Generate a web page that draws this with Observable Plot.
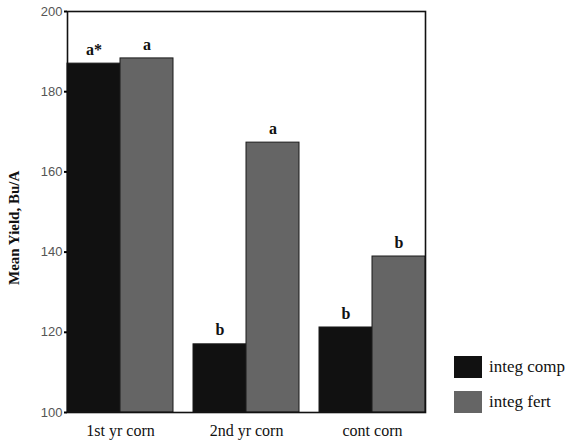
<!DOCTYPE html>
<html>
<head>
<meta charset="utf-8">
<script src="https://cdn.jsdelivr.net/npm/d3@7"></script>
<script src="https://cdn.jsdelivr.net/npm/@observablehq/plot@0.6"></script>
<style>
  body { margin: 0; background: #fff; }
  #wrap { position: relative; width: 565px; height: 444px; }
  #legend { position: absolute; left: 454px; top: 355px; }
  #legend span { font-family: "Liberation Serif", "Times New Roman", serif; font-size: 17px; color: #111; }
  .item { display: flex; align-items: center; height: 23px; margin-bottom: 12px; }
  .sw { width: 28px; height: 22px; margin-right: 7px; }
</style>
</head>
<body>
<div id="wrap"></div>
<script>
const groups = ["1st yr corn", "2nd yr corn", "cont corn"];
const series = ["integ comp", "integ fert"];
const compValues = [187, 117, 121.2];
const fertValues = [188.3, 167.3, 138.9];
const compLetters = ["a*", "b", "b"];
const fertLetters = ["a", "a", "b"];
const yTicks = [100, 120, 140, 160, 180, 200];
const yLabel = "Mean Yield, Bu/A";
const colors = ["#111111", "#656565"];

const data = [];
groups.forEach((g, i) => {
  data.push({group: g, series: series[0], value: compValues[i], letter: compLetters[i]});
  data.push({group: g, series: series[1], value: fertValues[i], letter: fertLetters[i]});
});

const serif = "Liberation Serif, Times New Roman, serif";

const chart = Plot.plot({
  width: 565,
  height: 444,
  marginLeft: 66,
  marginRight: 123,
  marginTop: 11,
  marginBottom: 32,
  style: {background: "#fff"},
  fx: {domain: groups, paddingInner: 0.157, paddingOuter: 0.059, align: 0.07, label: null},
  x: {domain: series, paddingInner: 0, paddingOuter: 0, axis: null},
  y: {domain: [yTicks[0], yTicks[yTicks.length - 1]]},
  color: {domain: series, range: colors},
  marks: [
    Plot.barY(data, {fx: "group", x: "series", y1: () => yTicks[0], y2: "value", fill: "series", stroke: "#1a1a1a", strokeWidth: 1, inset: 0}),
    Plot.text(data, {fx: "group", x: "series", y: "value", text: "letter", dy: -14, fontFamily: serif, fontWeight: "bold", fontSize: 16, fill: "#111"}),
    Plot.axisY({ticks: yTicks, tickSize: 3, tickPadding: 2, fontSize: 13, fontFamily: "Liberation Sans, Arial, sans-serif", fill: "#555", label: null, strokeWidth: 2}),
    Plot.text([yLabel], {facet: "super", frameAnchor: "left", text: d => d, rotate: -90, dx: -53, dy: 73, fontFamily: serif, fontWeight: "bold", fontSize: 15, fill: "#111"}),
    Plot.axisFx({anchor: "bottom", tickSize: 0, tickPadding: 12, fontSize: 16, fontFamily: serif, fill: "#111", label: null}),
    Plot.frame({facet: "super", stroke: "#111", strokeWidth: 1.6})
  ]
});
document.getElementById("wrap").appendChild(chart);

const legend = document.createElement("div");
legend.id = "legend";
series.forEach((s, i) => {
  const item = document.createElement("div");
  item.className = "item";
  const sw = document.createElement("div");
  sw.className = "sw";
  sw.style.background = colors[i];
  const label = document.createElement("span");
  label.textContent = s;
  item.appendChild(sw);
  item.appendChild(label);
  legend.appendChild(item);
});
document.getElementById("wrap").appendChild(legend);
</script>
</body>
</html>
